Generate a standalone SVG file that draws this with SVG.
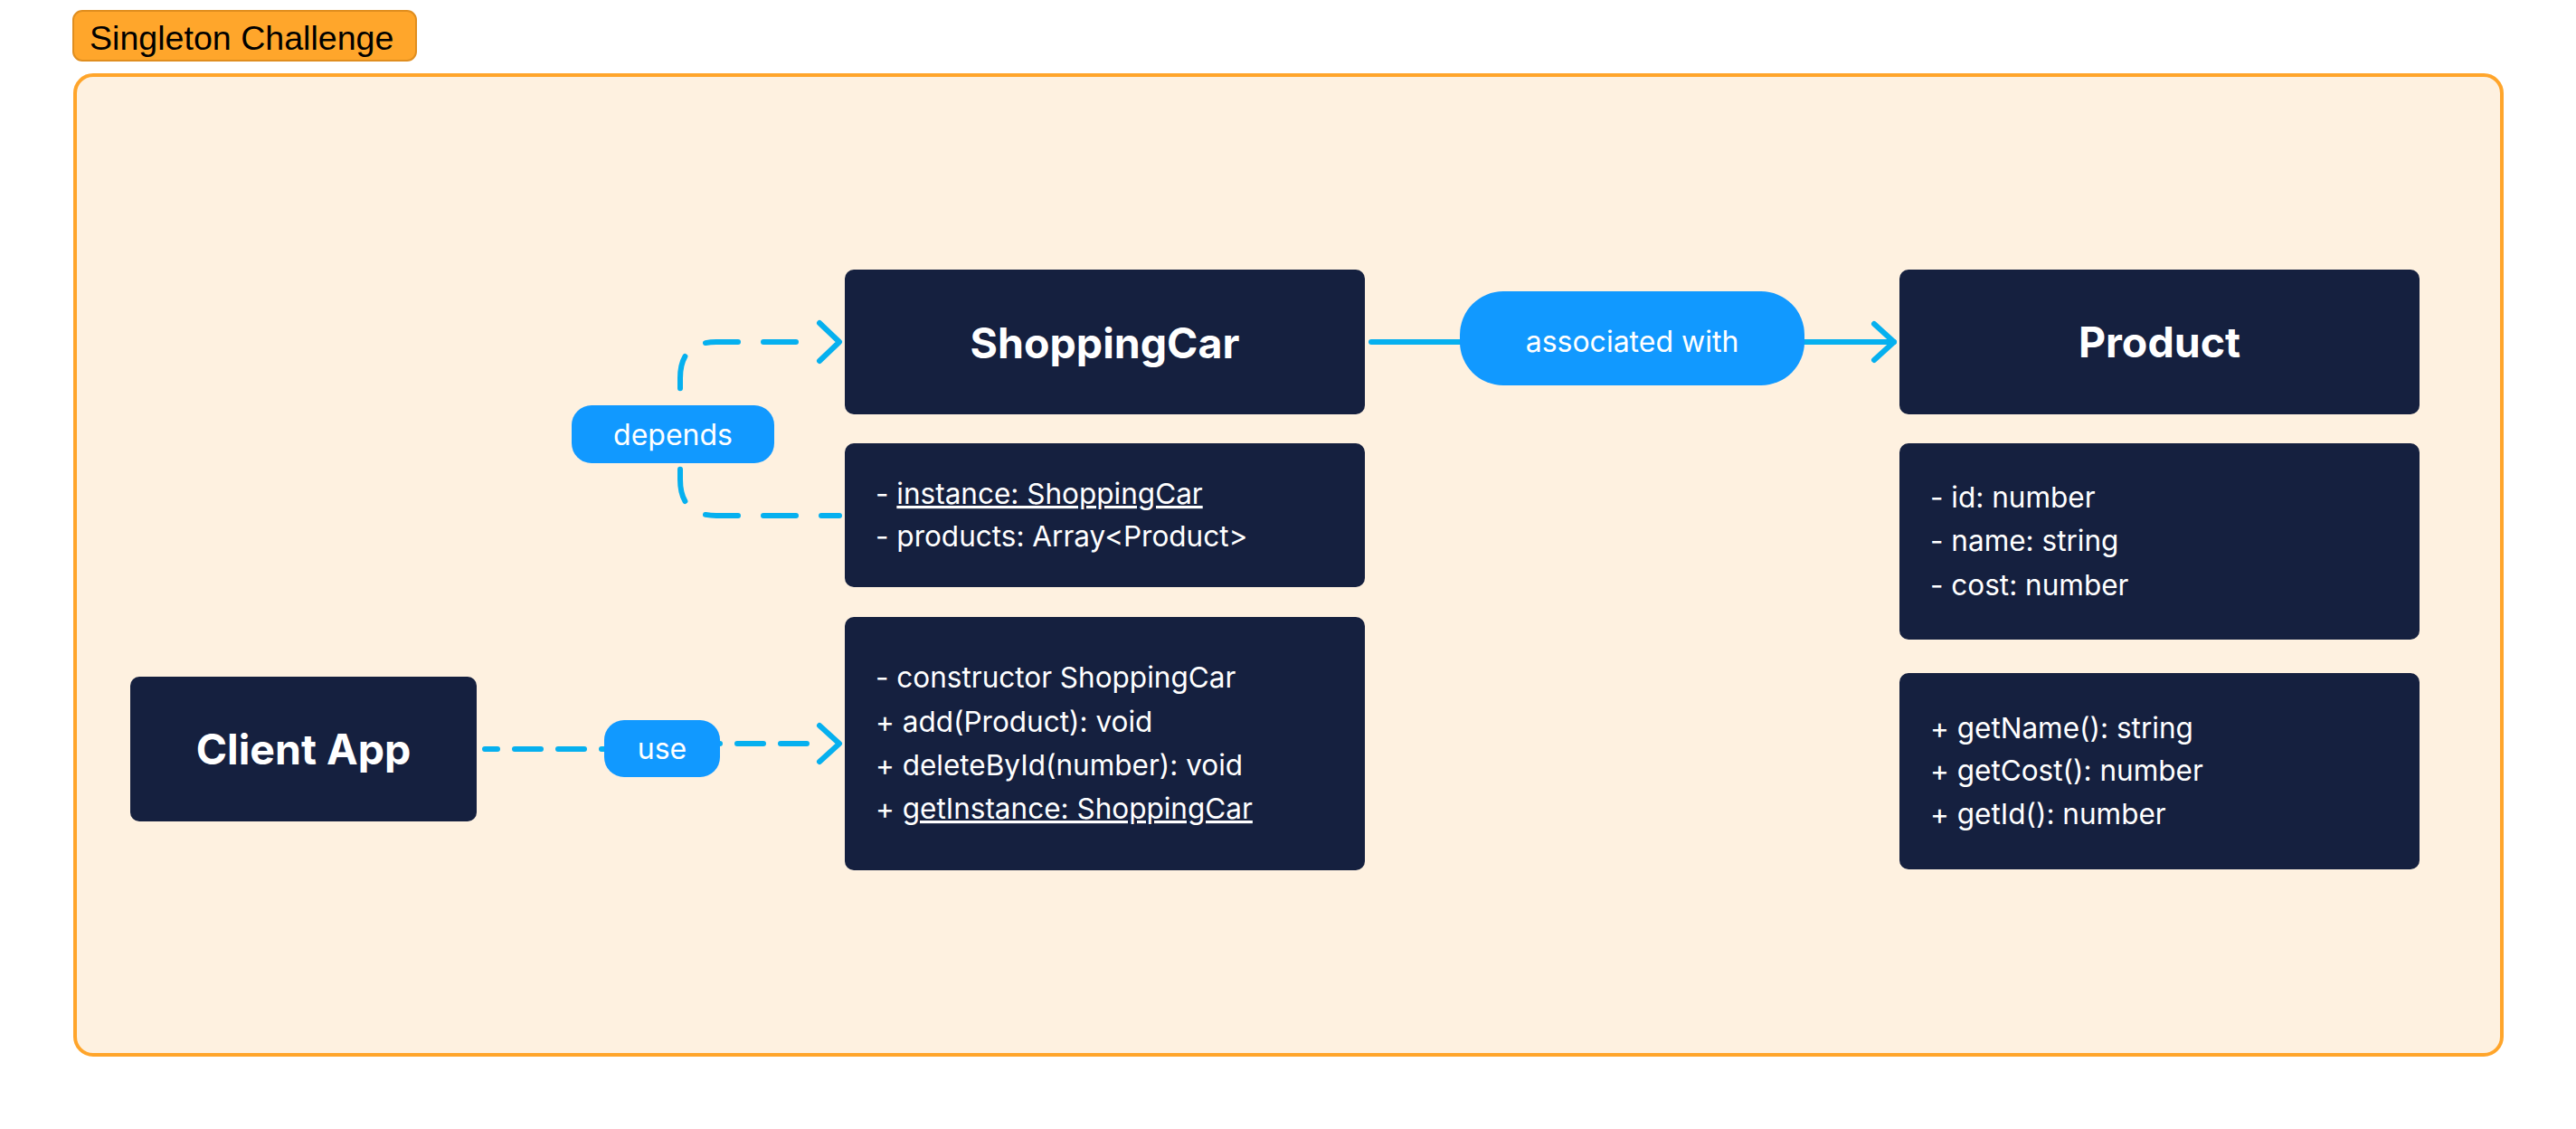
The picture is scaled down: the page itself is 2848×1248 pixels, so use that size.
<svg xmlns="http://www.w3.org/2000/svg" width="2848" height="1248" viewBox="0 0 2848 1248">
  <defs>
    <style>
      .node { fill: #15203f; }
      .title { font-family: Inter, "Noto Sans", "Liberation Sans", sans-serif; font-weight: 700; font-size: 46.5px; fill: #ffffff; text-anchor: middle; }
      .body { font-family: Inter, "Noto Sans", "Liberation Sans", sans-serif; font-size: 31.5px; fill: #ffffff; }
      .pill { fill: #1199ff; }
      .pilltext { font-family: Inter, "Noto Sans", "Liberation Sans", sans-serif; font-size: 32px; fill: #ffffff; text-anchor: middle; }
      .edge { fill: none; stroke: #06b0ef; stroke-width: 6; stroke-linecap: round; stroke-linejoin: round; }
      .dash { stroke-dasharray: 36 28; }
      .dash2 { stroke-dasharray: 29 19; }
    </style>
  </defs>

  <rect width="2848" height="1248" fill="#ffffff"/>

  <g id="frame">
    <rect x="83" y="83" width="2683" height="1083" rx="20" fill="#fef1e0" stroke="#ffa52b" stroke-width="4"/>
    <rect x="81" y="12" width="379" height="55" rx="10" fill="#ffa62b" stroke="#e08e1f" stroke-width="2"/>
    <text x="99" y="55" font-family="'Liberation Sans', Arial, sans-serif" font-size="37.6" fill="#000000">Singleton Challenge</text>
  </g>

  <g id="connectors">
    <!-- ShoppingCar -> Product -->
    <path class="edge" d="M 1516 378 H 2094"/>
    <polyline class="edge" points="2072,358 2094,378 2072,398"/>
    <!-- depends -->
    <path class="edge dash" stroke-dashoffset="16" d="M 928 570 H 792 Q 752 570 752 530 V 480"/>
    <path class="edge dash" stroke-dashoffset="38" d="M 906 378 H 792 Q 752 378 752 418 V 480"/>
    <polyline class="edge" points="906,357 928,378 906,399"/>
    <!-- use -->
    <path class="edge dash2" stroke-dashoffset="15" d="M 536 828 H 700"/>
    <path class="edge dash2" stroke-dashoffset="1" d="M 768 822 H 906"/>
    <polyline class="edge" points="906,802 928,822 906,842"/>
    <!-- labels -->
    <g id="label-assoc">
      <rect class="pill" x="1614" y="322" width="381" height="104" rx="48"/>
      <text class="pilltext" x="1804.5" y="389">associated with</text>
    </g>
    <g id="label-depends">
      <rect class="pill" x="632" y="448" width="224" height="64" rx="22"/>
      <text class="pilltext" x="744" y="492">depends</text>
    </g>
    <g id="label-use">
      <rect class="pill" x="668" y="796" width="128" height="63" rx="22"/>
      <text class="pilltext" x="732" y="839">use</text>
    </g>
  </g>

  <g id="client-app">
    <rect class="node" x="144" y="748" width="383" height="160" rx="10"/>
    <text class="title" x="335.5" y="845">Client App</text>
  </g>

  <g id="shoppingcar">
    <rect class="node" x="934" y="298" width="575" height="160" rx="10"/>
    <text class="title" x="1221.5" y="396">ShoppingCar</text>
  </g>

  <g id="shoppingcar-attributes">
    <rect class="node" x="934" y="490" width="575" height="159" rx="10"/>
    <text class="body" x="968" y="557">- <tspan text-decoration="underline">instance: ShoppingCar</tspan></text>
    <text class="body" x="968" y="604">- products: Array&lt;Product&gt;</text>
  </g>

  <g id="shoppingcar-methods">
    <rect class="node" x="934" y="682" width="575" height="280" rx="10"/>
    <text class="body" x="968" y="760">- constructor ShoppingCar</text>
    <text class="body" x="968" y="809">+ add(Product): void</text>
    <text class="body" x="968" y="857">+ deleteById(number): void</text>
    <text class="body" x="968" y="905">+ <tspan text-decoration="underline">getInstance: ShoppingCar</tspan></text>
  </g>

  <g id="product">
    <rect class="node" x="2100" y="298" width="575" height="160" rx="10"/>
    <text class="title" x="2387.5" y="395">Product</text>
  </g>

  <g id="product-attributes">
    <rect class="node" x="2100" y="490" width="575" height="217" rx="10"/>
    <text class="body" x="2134" y="561">- id: number</text>
    <text class="body" x="2134" y="609">- name: string</text>
    <text class="body" x="2134" y="658">- cost: number</text>
  </g>

  <g id="product-methods">
    <rect class="node" x="2100" y="744" width="575" height="217" rx="10"/>
    <text class="body" x="2134" y="816">+ getName(): string</text>
    <text class="body" x="2134" y="863">+ getCost(): number</text>
    <text class="body" x="2134" y="911">+ getId(): number</text>
  </g>
</svg>
